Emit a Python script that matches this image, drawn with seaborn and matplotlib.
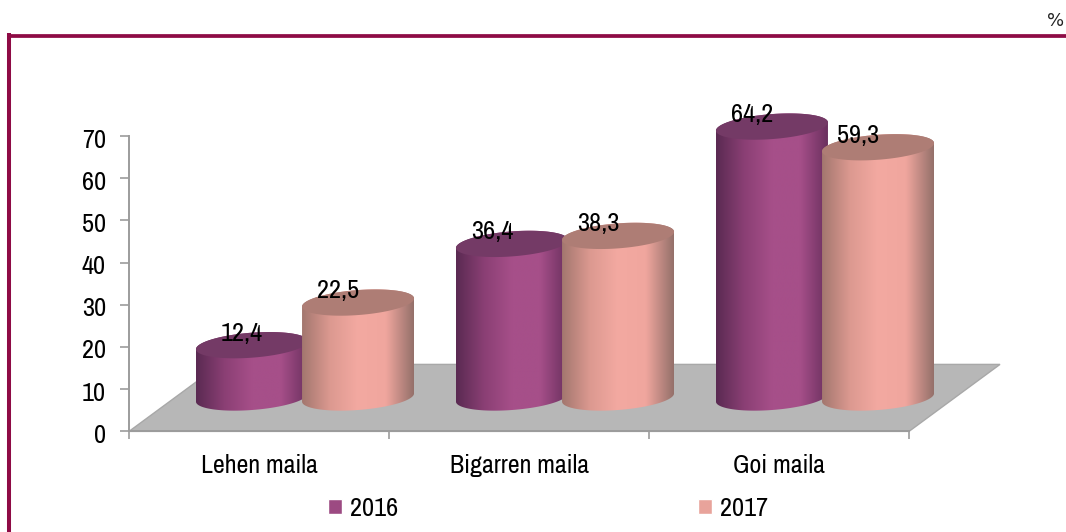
import numpy as np
import pandas as pd
import matplotlib
matplotlib.use("Agg")
import matplotlib.pyplot as plt
import seaborn as sns
from matplotlib.colors import LinearSegmentedColormap
from matplotlib.lines import Line2D
from matplotlib.patches import Polygon
from matplotlib.transforms import Affine2D, IdentityTransform

# Data
categories = ["Lehen maila", "Bigarren maila", "Goi maila"]
values_2016 = [12.4, 36.4, 64.2]
values_2017 = [22.5, 38.3, 59.3]
years = ["2016", "2017"]
y_ticks = [0, 10, 20, 30, 40, 50, 60, 70]

# Colours
palette = {"2016": "#9c4a82", "2017": "#e8a39b"}
side_colors = {
    "2016": ["#5a2a52", "#8a3f74", "#a64f89", "#a64f89", "#6b305f"],
    "2017": ["#a3776f", "#dc9990", "#f3a9a1", "#f0a69e", "#94706a"],
}
cap_colors = {"2016": "#743a66", "2017": "#ae7d75"}
GREY = "#9c9c9c"
FRAME = "#8e0b45"

df = pd.DataFrame({
    "cat": categories * 2,
    "year": [years[0]] * 3 + [years[1]] * 3,
    "val": values_2016 + values_2017,
})

sns.set_theme(style="white")
plt.rcParams["font.family"] = ["Archivo Narrow", "Liberation Sans", "DejaVu Sans"]

fig = plt.figure(figsize=(10.66, 5.32), dpi=100)
ax = fig.add_axes([129 / 1066, (532 - 431.4) / 532, 780 / 1066, 295.4 / 532])

sns.barplot(data=df, x="cat", y="val", hue="year", palette=palette, width=0.816,
            gap=0, saturation=1, ax=ax)
ax.set_xlim(-0.5, 2.5)
ax.set_ylim(0, 70)
ax.autoscale(False)
ax.set_xlabel("")
ax.set_ylabel("")
ax.set_yticks(y_ticks)

# Axes styling
sns.despine(ax=ax)
for s in ["left", "bottom"]:
    ax.spines[s].set_color(GREY)
    ax.spines[s].set_linewidth(1.4)
    ax.spines[s].set_zorder(2)
ax.set_xticks([-0.5, 0.5, 1.5, 2.5], minor=True)
ax.tick_params(axis="x", which="major", length=0, pad=16, labelsize=18.7, labelcolor="black")
ax.tick_params(axis="x", which="minor", length=6, width=1.2, color=GREY, bottom=True)
ax.tick_params(axis="y", length=6.5, width=1.2, color=GREY, left=True, pad=10,
               labelsize=19, labelcolor="black")
for lbl in ax.get_yticklabels():
    lbl.set_transform(lbl.get_transform() + Affine2D().translate(0, -2))

# Floor, in pixels off the axis corners
px = IdentityTransform()
p0 = ax.transData.transform((-0.5, 0))
p1 = ax.transData.transform((2.5, 0))
depth = np.array([91, 67])
ax.add_patch(Polygon([p0, p1, p1 + depth, p0 + depth], closed=True, transform=px,
                     facecolor="#b7b7b7", edgecolor="#a8a8a8", lw=1, clip_on=False, zorder=1))

# Cylinders built from the seaborn bars
shift = np.array([46, 33.9])
half_w = 56
half_h = 12.5
slope = 0.073


def ring(center, t):
    xs = center[0] + half_w * np.cos(t)
    ys = center[1] + slope * half_w * np.cos(t) + half_h * np.sin(t)
    return np.column_stack([xs, ys])


z = 3
for year, cont in zip(years, ax.containers):
    cmap = LinearSegmentedColormap.from_list(year, side_colors[year])
    for bar in cont:
        mid = bar.get_x() + bar.get_width() / 2
        top = ax.transData.transform((mid, bar.get_height())) + shift
        base = ax.transData.transform((mid, 0)) + shift
        bar.set_alpha(0)

        t_low = np.linspace(np.pi, 2 * np.pi, 80)
        t_up = np.linspace(0, np.pi, 80)
        outline = np.vstack([ring(base, t_low), ring(top, t_up)])
        body = Polygon(outline, closed=True, transform=px, facecolor="none",
                       edgecolor="none", clip_on=False, zorder=z)
        ax.add_patch(body)
        im = ax.imshow(np.linspace(0, 1, 256).reshape(1, -1), cmap=cmap, aspect="auto",
                       extent=(top[0] - half_w, top[0] + half_w, base[1] - 30, top[1] + 30),
                       transform=px, interpolation="bilinear", zorder=z)
        im.set_clip_box(fig.bbox)
        im.set_clip_path(body)
        ax.add_patch(Polygon(ring(top, np.linspace(0, 2 * np.pi, 160)), closed=True, transform=px,
                             facecolor=cap_colors[year], edgecolor="none", clip_on=False,
                             zorder=z + 0.1))
        z += 1

# Value labels sit up and left of each cap, the smallest one less so
for year, cont in zip(years, ax.containers):
    for bar in cont:
        mid = bar.get_x() + bar.get_width() / 2
        v = bar.get_height()
        p = ax.transData.transform((mid, v)) + shift
        dx = -10 if v == min(values_2016) else -20
        ax.text(p[0] + dx, p[1] + 12, f"{v:.1f}".replace(".", ","), transform=px,
                ha="center", va="center", fontsize=19, color="black", zorder=20, clip_on=False)

sns.move_legend(ax, loc="center", bbox_to_anchor=(548 / 1066, (532 - 508.5) / 532),
                bbox_transform=fig.transFigure, ncol=2, frameon=False, title=None,
                fontsize=19, handlelength=0.53, handleheight=0.53, handletextpad=0.3,
                columnspacing=11.34, borderpad=0, labelcolor="black")

# Frame lines
fig.add_artist(Line2D([7 / 1066, 1], [1 - 36 / 532, 1 - 36 / 532], color=FRAME, lw=2.7,
                      solid_capstyle="butt"))
fig.add_artist(Line2D([9 / 1066, 9 / 1066], [0, 1 - 33 / 532], color=FRAME, lw=2.9,
                      solid_capstyle="butt"))
fig.text(1056 / 1066, 1 - 21 / 532, "%", ha="center", va="center", fontsize=13,
         family="DejaVu Sans", color="#222222")

fig.savefig("out.png", dpi=100)
